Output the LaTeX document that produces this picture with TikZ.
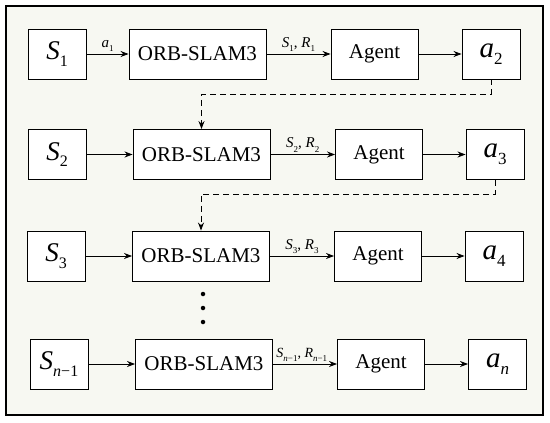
\documentclass[tikz,border=0pt]{standalone}
\usepackage{fontspec}
\setmainfont{Liberation Serif}
\usetikzlibrary{arrows.meta}
\tikzset{
  blk/.style={draw=black, line width=0.9pt, fill=white, minimum height=50pt, inner sep=0pt, font=\fontsize{21}{24}\selectfont},
  sbox/.style={blk, minimum width=58pt},
  obox/.style={blk, minimum width=137pt},
  gbox/.style={blk, minimum width=87pt},
  arr/.style={-{Stealth[length=8pt,width=6pt]}, line width=0.8pt},
  darr/.style={-{Stealth[length=8pt,width=6pt]}, line width=0.9pt, dash pattern=on 6pt off 4pt},
  lbl/.style={font=\fontsize{15}{17}\selectfont, above, inner sep=2pt},
}
\newcommand{\bigS}[1]{{\fontsize{27}{29}\selectfont\textit{S}\raisebox{-0.25em}{\fontsize{16}{18}\selectfont #1}}}
\newcommand{\biga}[1]{{\fontsize{29}{31}\selectfont\textit{a}\raisebox{-0.25em}{\fontsize{17}{19}\selectfont #1}}}
\newcommand{\sml}[2]{\textit{#1}\raisebox{-0.3em}{\fontsize{9}{10}\selectfont #2}}
\begin{document}
\begin{tikzpicture}[x=1pt,y=-1pt]
\useasboundingbox (0,0) rectangle (550,423);
\fill[white] (0,0) rectangle (550,423);
\draw[line width=1.6pt, fill={rgb,255:red,247;green,248;blue,242}] (6,6) rectangle (543,415);
% row 1
\node[sbox] (s1) at (57,54) {\bigS{1}};
\node[obox] (o1) at (197.5,54) {ORB-SLAM3};
\node[gbox] (g1) at (374.5,54) {Agent};
\node[sbox] (a2) at (491,54) {\biga{2}};
% row 2
\node[sbox] (s2) at (57,154.5) {\bigS{2}};
\node[obox] (o2) at (201.5,154.5) {ORB-SLAM3};
\node[gbox] (g2) at (379,154.5) {Agent};
\node[sbox] (a3) at (495,154.5) {\biga{3}};
% row 3
\node[sbox] (s3) at (56,256) {\bigS{3}};
\node[obox] (o3) at (201,256) {ORB-SLAM3};
\node[gbox] (g3) at (378,256) {Agent};
\node[sbox] (a4) at (494,256) {\biga{4}};
% row 4
\node[sbox] (s4) at (59,364) {\bigS{\textit{n}−1}};
\node[obox] (o4) at (204,364) {ORB-SLAM3};
\node[gbox] (g4) at (381,364) {Agent};
\node[sbox] (an) at (497.5,364) {\biga{\textit{n}}};
% arrows
\draw[arr] (s1) -- node[lbl]{\sml{a}{1}} (o1);
\draw[arr] (o1) -- node[lbl]{\sml{S}{1}, \sml{R}{1}} (g1);
\draw[arr] (g1) -- (a2);
\draw[arr] (s2) -- (o2);
\draw[arr] (o2) -- node[lbl]{\sml{S}{2}, \sml{R}{2}} (g2);
\draw[arr] (g2) -- (a3);
\draw[arr] (s3) -- (o3);
\draw[arr] (o3) -- node[lbl]{\sml{S}{3}, \sml{R}{3}} (g3);
\draw[arr] (g3) -- (a4);
\draw[arr] (s4) -- (o4);
\draw[arr] (o4) -- node[lbl, pos=0.45, font=\fontsize{14}{16}\selectfont]{\sml{S}{\textit{n}−1}, \sml{R}{\textit{n}−1}} (g4);
\draw[arr] (g4) -- (an);
% dashed feedback
\coordinate (d1a) at (491,94);
\coordinate (d1b) at (201.5,94);
\draw[darr] (a2.south) -- (d1a) -- (d1b) -- (o2.north);
\coordinate (d2a) at (495,194);
\coordinate (d2b) at (201,194);
\draw[darr] (a3.south) -- (d2a) -- (d2b) -- (o3.north);
% dots
\foreach \yy/\nm in {294/p1,308/p2,322/p3} {\node[circle, fill=black, inner sep=0pt, minimum size=4.5pt] (\nm) at (203,\yy) {};}
\end{tikzpicture}
\end{document}
